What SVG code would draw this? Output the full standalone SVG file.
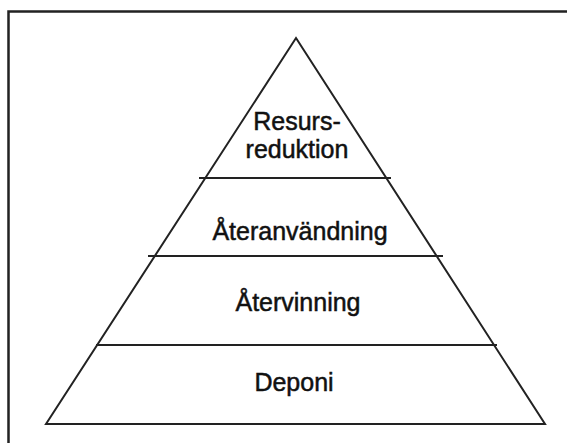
<svg xmlns="http://www.w3.org/2000/svg" width="567" height="443" viewBox="0 0 567 443">
<style>
.frame{fill:none;stroke:#222;stroke-width:2.5}
.edge{fill:none;stroke:#222;stroke-width:2;stroke-linejoin:miter}
.sep{stroke:#222;stroke-width:2}
.lbl{font-family:"Liberation Sans",Arial,sans-serif;font-size:25px;fill:#111;text-anchor:middle;stroke:#111;stroke-width:0.5}
</style>
<rect width="567" height="443" fill="#fff"/>
<path class="frame" d="M8.5 443 V11.5 H567"/>
<g id="pyramid">
<polygon class="edge" points="296,38 545,424 46,424"/>
</g>
<g id="connectors">
<line class="sep" x1="199" y1="178" x2="391" y2="178"/>
<line class="sep" x1="148" y1="256" x2="443" y2="256"/>
<line class="sep" x1="96" y1="345" x2="497" y2="345"/>
</g>
<g id="resursreduktion">
<text class="lbl" x="297" y="130">Resurs-</text>
<text class="lbl" x="297" y="158">reduktion</text>
</g>
<g id="ateranvandning">
<text class="lbl" x="300" y="240">Återanvändning</text>
</g>
<g id="atervinning">
<text class="lbl" x="298" y="311">Återvinning</text>
</g>
<g id="deponi">
<text class="lbl" x="294" y="391">Deponi</text>
</g>
</svg>
